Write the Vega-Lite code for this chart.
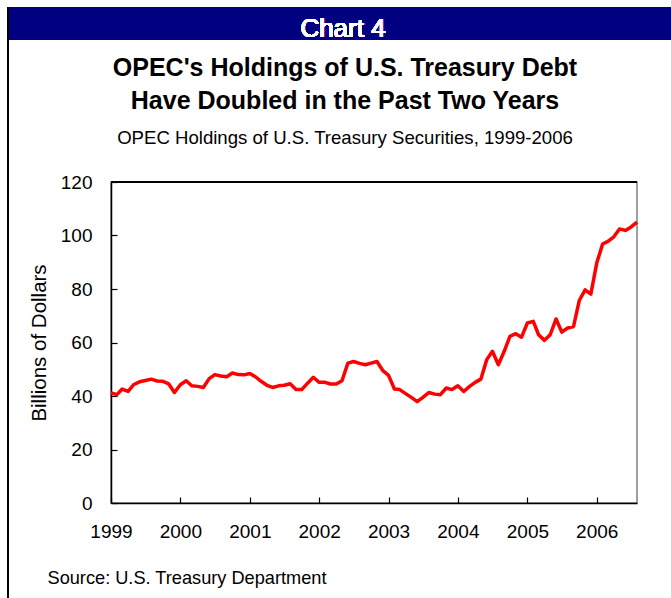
{
  "$schema": "https://vega.github.io/schema/vega-lite/v6.json",
  "autosize": "none",
  "width": 526,
  "height": 321,
  "padding": {"left": 111, "top": 182, "right": 34, "bottom": 95},
  "background": "white",
  "config": {
    "font": "Liberation Sans",
    "view": {"stroke": "#808080", "strokeWidth": 1.5}
  },
  "title": {
    "text": ["OPEC's Holdings of U.S. Treasury Debt", "Have Doubled in the Past Two Years"],
    "subtitle": "OPEC Holdings of U.S. Treasury Securities, 1999-2006",
    "anchor": "middle",
    "frame": "group",
    "dx": -29,
    "offset": -141,
    "font": "Liberation Sans",
    "fontSize": 25,
    "fontWeight": "bold",
    "lineHeight": 33,
    "color": "#000000",
    "subtitleFont": "Liberation Sans",
    "subtitleFontSize": 18.6,
    "subtitleColor": "#000000",
    "subtitlePadding": 14.5
  },
  "data": {
    "values": [
      {"date": "1999/01/01", "value": 41.1}, {"date": "1999/02/01", "value": 40.5}, {"date": "1999/03/01", "value": 42.6}, {"date": "1999/04/01", "value": 41.7},
      {"date": "1999/05/01", "value": 44.3}, {"date": "1999/06/01", "value": 45.3}, {"date": "1999/07/01", "value": 45.8}, {"date": "1999/08/01", "value": 46.3},
      {"date": "1999/09/01", "value": 45.6}, {"date": "1999/10/01", "value": 45.5}, {"date": "1999/11/01", "value": 44.5}, {"date": "1999/12/01", "value": 41.3},
      {"date": "2000/01/01", "value": 44.2}, {"date": "2000/02/01", "value": 45.7}, {"date": "2000/03/01", "value": 43.8}, {"date": "2000/04/01", "value": 43.6},
      {"date": "2000/05/01", "value": 43.2}, {"date": "2000/06/01", "value": 46.5}, {"date": "2000/07/01", "value": 48.0}, {"date": "2000/08/01", "value": 47.5},
      {"date": "2000/09/01", "value": 47.2}, {"date": "2000/10/01", "value": 48.6}, {"date": "2000/11/01", "value": 48.0}, {"date": "2000/12/01", "value": 47.9},
      {"date": "2001/01/01", "value": 48.4}, {"date": "2001/02/01", "value": 47.1}, {"date": "2001/03/01", "value": 45.5}, {"date": "2001/04/01", "value": 44.0},
      {"date": "2001/05/01", "value": 43.2}, {"date": "2001/06/01", "value": 43.8}, {"date": "2001/07/01", "value": 44.0}, {"date": "2001/08/01", "value": 44.6},
      {"date": "2001/09/01", "value": 42.4}, {"date": "2001/10/01", "value": 42.4}, {"date": "2001/11/01", "value": 44.8}, {"date": "2001/12/01", "value": 47.0},
      {"date": "2002/01/01", "value": 45.1}, {"date": "2002/02/01", "value": 45.1}, {"date": "2002/03/01", "value": 44.5}, {"date": "2002/04/01", "value": 44.5},
      {"date": "2002/05/01", "value": 45.7}, {"date": "2002/06/01", "value": 52.3}, {"date": "2002/07/01", "value": 52.9}, {"date": "2002/08/01", "value": 52.2},
      {"date": "2002/09/01", "value": 51.7}, {"date": "2002/10/01", "value": 52.3}, {"date": "2002/11/01", "value": 52.9}, {"date": "2002/12/01", "value": 49.6},
      {"date": "2003/01/01", "value": 47.7}, {"date": "2003/02/01", "value": 42.6}, {"date": "2003/03/01", "value": 42.4}, {"date": "2003/04/01", "value": 40.9},
      {"date": "2003/05/01", "value": 39.5}, {"date": "2003/06/01", "value": 37.9}, {"date": "2003/07/01", "value": 39.5}, {"date": "2003/08/01", "value": 41.3},
      {"date": "2003/09/01", "value": 40.7}, {"date": "2003/10/01", "value": 40.5}, {"date": "2003/11/01", "value": 43.0}, {"date": "2003/12/01", "value": 42.4},
      {"date": "2004/01/01", "value": 43.8}, {"date": "2004/02/01", "value": 41.7}, {"date": "2004/03/01", "value": 43.5}, {"date": "2004/04/01", "value": 45.1},
      {"date": "2004/05/01", "value": 46.3}, {"date": "2004/06/01", "value": 53.6}, {"date": "2004/07/01", "value": 56.7}, {"date": "2004/08/01", "value": 51.7},
      {"date": "2004/09/01", "value": 56.7}, {"date": "2004/10/01", "value": 62.3}, {"date": "2004/11/01", "value": 63.3}, {"date": "2004/12/01", "value": 62.0},
      {"date": "2005/01/01", "value": 67.3}, {"date": "2005/02/01", "value": 67.9}, {"date": "2005/03/01", "value": 62.9}, {"date": "2005/04/01", "value": 60.8},
      {"date": "2005/05/01", "value": 62.9}, {"date": "2005/06/01", "value": 68.8}, {"date": "2005/07/01", "value": 63.9}, {"date": "2005/08/01", "value": 65.4},
      {"date": "2005/09/01", "value": 66.0}, {"date": "2005/10/01", "value": 75.7}, {"date": "2005/11/01", "value": 79.7}, {"date": "2005/12/01", "value": 78.1},
      {"date": "2006/01/01", "value": 89.7}, {"date": "2006/02/01", "value": 96.8}, {"date": "2006/03/01", "value": 97.8}, {"date": "2006/04/01", "value": 99.5},
      {"date": "2006/05/01", "value": 102.4}, {"date": "2006/06/01", "value": 101.9}, {"date": "2006/07/01", "value": 103.2}, {"date": "2006/08/01", "value": 105.0}
    ]
  },
  "layer": [
    {
      "mark": {"type": "rect", "fill": "#000080", "clip": false},
      "encoding": {
        "x": {"value": -102},
        "x2": {"value": 560},
        "y": {"value": -175},
        "y2": {"value": -142}
      }
    },
    {
      "mark": {"type": "text", "text": "Chart 4", "fill": "#ffffff", "stroke": null, "font": "Liberation Sans", "fontSize": 26, "fontWeight": "normal", "align": "center", "baseline": "alphabetic"},
      "encoding": {
        "x": {"value": 232},
        "y": {"value": -145}
      }
    },
    {
      "mark": {"type": "rule", "color": "#000000", "strokeWidth": 1.5},
      "encoding": {
        "x": {"value": -103},
        "y": {"value": -175},
        "y2": {"value": 416}
      }
    },
    {
      "mark": {"type": "rule", "color": "#000000", "strokeWidth": 1.5},
      "encoding": {
        "y": {"datum": 120, "type": "quantitative", "scale": {"domain": [0, 120]}}
      }
    },
    {
      "mark": {"type": "line", "color": "#ff0000", "strokeWidth": 3.5, "strokeJoin": "round"},
      "encoding": {
        "x": {
          "field": "date",
          "type": "temporal",
          "scale": {"domain": [{"year": 1999, "month": 1, "date": 1}, {"year": 2006, "month": 8, "date": 1}]},
          "axis": {
            "values": [{"year": 1999, "month": 1, "date": 1}, {"year": 2000, "month": 1, "date": 1}, {"year": 2001, "month": 1, "date": 1}, {"year": 2002, "month": 1, "date": 1}, {"year": 2003, "month": 1, "date": 1}, {"year": 2004, "month": 1, "date": 1}, {"year": 2005, "month": 1, "date": 1}, {"year": 2006, "month": 1, "date": 1}],
            "format": "%Y",
            "grid": false,
            "labelFlush": false,
            "labelOverlap": false,
            "tickSize": -6,
            "tickColor": "#000000",
            "tickWidth": 1.2,
            "domainColor": "#000000",
            "domainWidth": 1.5,
            "labelPadding": 25,
            "labelFont": "Liberation Sans",
            "labelFontSize": 19,
            "labelColor": "#000000",
            "title": "Source: U.S. Treasury Department",
            "titleFont": "Liberation Sans",
            "titleFontSize": 18.2,
            "titleFontWeight": "normal",
            "titleColor": "#000000",
            "titleAnchor": "start",
            "titleAlign": "left",
            "titleBaseline": "alphabetic",
            "titleX": -64,
            "titleY": 80.5
          }
        },
        "y": {
          "field": "value",
          "type": "quantitative",
          "scale": {"domain": [0, 120]},
          "axis": {
            "values": [0, 20, 40, 60, 80, 100, 120],
            "grid": false,
            "tickSize": -6,
            "tickColor": "#000000",
            "tickWidth": 1.2,
            "domainColor": "#000000",
            "domainWidth": 1.5,
            "labelPadding": 25,
            "labelFont": "Liberation Sans",
            "labelFontSize": 19,
            "labelColor": "#000000",
            "title": "Billions of Dollars",
            "titleFont": "Liberation Sans",
            "titleFontSize": 20.5,
            "titleFontWeight": "normal",
            "titleColor": "#000000",
            "titlePadding": 11
          }
        }
      }
    }
  ]
}
